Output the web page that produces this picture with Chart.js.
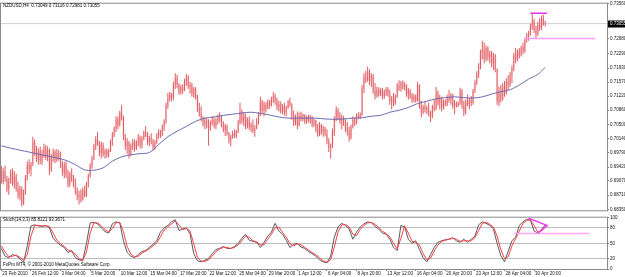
<!DOCTYPE html>
<html><head><meta charset="utf-8">
<script src="https://cdn.jsdelivr.net/npm/chart.js@4/dist/chart.umd.min.js"></script>
<style>
html,body{margin:0;padding:0;background:#fff;overflow:hidden;}
#wrap{position:relative;width:625px;height:277px;}
canvas{position:absolute;left:0;}
#main{top:0;}
#stoch{top:214px;}
</style></head><body>
<div id="wrap"><canvas id="main" width="625" height="214"></canvas><canvas id="stoch" width="625" height="63"></canvas></div>
<script>
// ---- data (prices in 4-digit pips: 6930 -> 0.6930) ----
const barOpen = [
6930,6905,6932,6912,6885,6908,6928,6900,6918,6886, 6870,6888,6850,6878,6915,6948,6935,6950,7005,6978,
6962,6982,6958,6975,6990,6968,6985,6935,6968,6980, 6960,6978,6965,6945,6928,6948,6920,6898,6925,6912,
6896,6880,6866,6872,6860,6882,6870,6900,6920,6946, 6965,6995,7012,7002,6978,6998,6975,6983,6972,6985,
7008,7024,7040,7062,7048,7080,7066,7018,6995,7005, 6975,6996,7006,6988,7004,7018,6998,7012,7030,7025,
7004,7016,7008,6992,7005,7022,7030,7024,7045,7058, 7098,7115,7125,7118,7150,7168,7150,7132,7144,7136,
7160,7170,7146,7150,7128,7140,7120,7090,7078,7065, 7052,7060,7046,7042,7055,7062,7046,7058,7068,7060,
7050,7036,7045,7028,7010,7018,7028,7020,7032,7055, 7082,7060,7072,7046,7062,7042,7050,7034,7040,7060,
7074,7108,7085,7100,7090,7106,7098,7115,7122,7108, 7094,7102,7085,7096,7080,7092,7108,7100,7068,7055,
7070,7048,7072,7064,7075,7058,7068,7060,7070,7050, 7060,7036,7025,7048,7030,7040,7028,7008,6990,6996,
7034,7064,7086,7070,7058,7066,7052,7040,7030,7016, 7044,7062,7054,7072,7068,7076,7142,7170,7162,7185,
7160,7172,7135,7122,7138,7126,7136,7120,7132,7140, 7126,7108,7115,7104,7122,7148,7142,7155,7144,7150,
7126,7136,7120,7112,7122,7110,7150,7096,7080,7094, 7088,7092,7078,7070,7095,7090,7130,7104,7118,7092,
7108,7100,7120,7112,7125,7096,7105,7098,7104,7136, 7098,7080,7106,7102,7112,7105,7135,7155,7178,7198,
7232,7240,7215,7244,7220,7230,7205,7225,7190,7108, 7130,7115,7146,7130,7158,7150,7176,7192,7226,7215,
7235,7225,7245,7236,7264,7276,7280,7298,7312,7290, 7278,7302,7295,7318,7305];
const barHigh = [
6945,6940,6946,6920,6915,6936,6939,6932,6925,6905, 6895,6893,6885,6922,6957,6962,6955,7019,7012,6996,
6990,6994,6985,7001,6998,6995,6989,6975,6989,6986, 6988,6985,6981,6957,6955,6957,6935,6930,6939,6922,
6914,6890,6882,6886,6890,6895,6905,6925,6952,6971, 7001,7020,7031,7008,7006,7004,6989,6989,6988,7012,
7031,7045,7071,7070,7085,7100,7072,7026,7015,7008, 7002,7014,7012,7010,7026,7022,7020,7035,7046,7031,
7022,7028,7014,7010,7028,7038,7036,7050,7063,7105, 7130,7133,7130,7158,7180,7176,7155,7150,7152,7165,
7178,7175,7158,7156,7145,7144,7125,7105,7096,7071, 7068,7066,7063,7060,7071,7068,7066,7075,7081,7072,
7058,7052,7050,7031,7024,7034,7038,7036,7062,7105, 7088,7081,7078,7068,7071,7055,7063,7048,7066,7081,
7120,7112,7108,7106,7113,7112,7120,7133,7128,7118, 7110,7108,7102,7105,7098,7112,7118,7104,7085,7075,
7083,7080,7083,7078,7076,7072,7075,7074,7071,7066, 7062,7052,7056,7052,7046,7044,7038,7015,7002,7040,
7071,7096,7092,7081,7075,7072,7063,7056,7044,7050, 7071,7068,7078,7081,7080,7150,7180,7186,7197,7190,
7180,7178,7155,7145,7144,7142,7143,7138,7145,7144, 7138,7122,7130,7126,7155,7162,7160,7162,7158,7152,
7143,7140,7130,7128,7126,7158,7152,7110,7100,7108, 7098,7105,7085,7100,7113,7145,7136,7125,7120,7113,
7113,7125,7138,7130,7128,7112,7108,7108,7143,7140, 7110,7113,7125,7118,7122,7140,7162,7185,7205,7240,
7262,7258,7250,7248,7237,7236,7232,7228,7192,7145, 7150,7155,7160,7167,7175,7182,7200,7232,7244,7240,
7244,7250,7257,7270,7282,7287,7305,7331,7318,7300, 7311,7319,7326,7328,7312];
const barLow = [
6900,6898,6905,6878,6872,6900,6895,6888,6880,6862, 6858,6842,6846,6872,6908,6925,6919,6945,6970,6955,
6948,6950,6947,6965,6960,6957,6922,6930,6955,6952, 6955,6958,6939,6920,6914,6915,6890,6892,6905,6890,
6872,6858,6847,6852,6857,6865,6866,6890,6915,6938, 6960,6985,6996,6970,6964,6968,6964,6965,6966,6980,
6996,7018,7031,7038,7045,7060,7010,6985,6975,6964, 6970,6985,6981,6985,6995,6990,6989,7010,7018,6998,
6994,7000,6984,6986,7000,7014,7016,7020,7034,7052, 7090,7108,7108,7112,7140,7142,7125,7126,7128,7135,
7148,7140,7128,7120,7118,7113,7082,7070,7058,7045, 7038,7040,6996,7034,7048,7040,7038,7050,7055,7043,
7030,7021,7022,7002,6994,7014,7016,7015,7028,7050, 7052,7046,7038,7040,7036,7031,7028,7019,7038,7050,
7071,7078,7071,7080,7088,7090,7096,7105,7100,7086, 7083,7078,7076,7072,7071,7090,7095,7062,7046,7048,
7038,7045,7058,7058,7052,7051,7055,7052,7043,7044, 7030,7019,7020,7024,7019,7020,7000,6980,6964,6990,
7021,7058,7062,7052,7038,7046,7031,7022,7006,7012, 7040,7046,7050,7063,7064,7072,7130,7155,7158,7150,
7145,7128,7113,7118,7120,7122,7113,7115,7122,7120, 7100,7088,7096,7100,7118,7135,7133,7138,7136,7120,
7113,7115,7105,7106,7105,7108,7090,7068,7076,7080, 7076,7070,7056,7066,7083,7086,7098,7088,7083,7088,
7096,7096,7105,7100,7090,7076,7093,7094,7100,7090, 7071,7075,7096,7088,7096,7100,7130,7150,7168,7190,
7215,7205,7210,7212,7205,7195,7188,7182,7100,7096, 7105,7110,7120,7126,7138,7145,7155,7185,7205,7210,
7217,7222,7228,7232,7257,7262,7275,7290,7282,7269, 7274,7287,7290,7300,7298];
const barClose = [
6905,6932,6912,6885,6908,6928,6900,6918,6886,6870, 6888,6850,6878,6915,6948,6935,6950,7005,6978,6962,
6982,6958,6975,6990,6968,6985,6935,6968,6980,6960, 6978,6965,6945,6928,6948,6920,6898,6925,6912,6896,
6880,6866,6872,6860,6882,6870,6900,6920,6946,6965, 6995,7012,7002,6978,6998,6975,6983,6972,6985,7008,
7024,7040,7062,7048,7080,7066,7018,6995,7005,6975, 6996,7006,6988,7004,7018,6998,7012,7030,7025,7004,
7016,7008,6992,7005,7022,7030,7024,7045,7058,7098, 7115,7125,7118,7150,7168,7150,7132,7144,7136,7160,
7170,7146,7150,7128,7140,7120,7090,7078,7065,7052, 7060,7046,7042,7055,7062,7046,7058,7068,7060,7050,
7036,7045,7028,7010,7018,7028,7020,7032,7055,7082, 7060,7072,7046,7062,7042,7050,7034,7040,7060,7074,
7108,7085,7100,7090,7106,7098,7115,7122,7108,7094, 7102,7085,7096,7080,7092,7108,7100,7068,7055,7070,
7048,7072,7064,7075,7058,7068,7060,7070,7050,7060, 7036,7025,7048,7030,7040,7028,7008,6990,6996,7034,
7064,7086,7070,7058,7066,7052,7040,7030,7016,7044, 7062,7054,7072,7068,7076,7142,7170,7162,7185,7160,
7172,7135,7122,7138,7126,7136,7120,7132,7140,7126, 7108,7115,7104,7122,7148,7142,7155,7144,7150,7126,
7136,7120,7112,7122,7110,7150,7096,7080,7094,7088, 7092,7078,7070,7095,7090,7130,7104,7118,7092,7108,
7100,7120,7112,7125,7096,7105,7098,7104,7136,7098, 7080,7106,7102,7112,7105,7135,7155,7178,7198,7232,
7240,7215,7244,7220,7230,7205,7225,7190,7108,7130, 7115,7146,7130,7158,7150,7176,7192,7226,7215,7235,
7225,7245,7236,7264,7276,7280,7298,7312,7290,7278, 7302,7295,7318,7305,7306];
// moving average, one value every 5 bars (last one at the final bar)
const maValues = [6996,6990,6985,6980,6975,6970,6965,6959,6948,6935, 6934,6940,6957,6968,6973,6976,6979,6999,7019,7033,
7045,7058,7066,7069,7073,7076,7079,7081,7078,7074, 7069,7066,7066,7066,7066,7064,7063,7064,7066,7067,
7071,7073,7081,7086,7093,7103,7109,7115,7118,7120, 7118,7117,7120,7127,7133,7138,7150,7165,7177,7195];
// stochastic, one value every 2 bars
const stochK = [40,25,22,28,26,20,13,45,84,86, 84,83,85,80,60,52,46,42,32,36, 22,18,16,50,90,91,88,80,73,70,
88,92,90,55,32,25,22,28,34,36, 42,48,55,72,80,85,92,96,75,78, 80,68,30,16,14,17,20,30,38,40,
44,40,40,44,50,60,68,56,54,52, 42,52,64,72,89,74,68,56,42,48, 50,43,40,34,30,25,18,14,12,25,
62,82,89,85,78,58,72,82,88,92, 90,83,78,70,68,58,42,36,85,82, 58,50,55,38,22,14,28,42,52,55,
57,58,61,55,52,58,52,58,64,86, 92,89,85,78,50,26,14,35,55,62, 85,92,97,95,74,70,77,86];
const stochD = [45,33,24,25,27,23,17,28,64,85, 85,84,84,83,70,56,49,44,37,34, 29,20,17,33,70,90,90,84,77,72,
79,90,91,73,44,29,24,25,31,35, 39,45,51,63,76,82,88,94,86,77, 79,74,49,23,15,15,18,25,34,39,
42,42,40,42,47,55,64,62,55,53, 47,47,58,68,80,82,71,62,49,45, 49,47,42,37,32,28,22,16,13,18,
43,72,86,87,82,68,65,77,85,90, 91,87,81,74,69,63,50,39,60,84, 70,54,52,47,30,18,21,35,47,54,
56,58,60,58,54,55,55,55,61,75, 89,91,87,82,64,38,20,24,45,59, 74,89,95,96,85,72,74,82];
const stochLevels = [20, 50, 80];
const stochTicks = [0, 20, 50, 80, 100];
const priceTicks = [0.68350,0.68710,0.69070,0.69420,0.69790,0.70140,0.70500,0.70860,0.71220,0.71570,0.71930,0.72290,0.72680,0.73560];
const timeTickBars = [0,16,32,48,64,80,96,112,128,144,160,176,192,208,224,240,256,272,288];
const timeTickLabels = ["23 Feb 2010","26 Feb 12:00","3 Mar 04:00","5 Mar 20:00","10 Mar 12:00","15 Mar 04:00","17 Mar 20:00","22 Mar 12:00","25 Mar 04:00","29 Mar 20:00","1 Apr 12:00","6 Apr 04:00","8 Apr 20:00","13 Apr 12:00","16 Apr 04:00","20 Apr 20:00","23 Apr 12:00","28 Apr 04:00","30 Apr 20:00"];
const lastQuote = [0.73049, 0.73116, 0.72981, 0.73055];
const stochLast = [85.8121, 93.3671];
// drawn objects: [fromBar, toBar] and level
const resistBars = [286, 295]; const resistPrice = 0.7332;
const supportBars = [283, 321]; const supportPrice = 0.7268;
const stochTrendBars = [285, 295, 290]; const stochTrendVals = [99, 85, 70];
const stochLevelBars = [277, 318]; const stochLevelVal = 69;

// ---- setup ----
const N = barClose.length;
const P = v => v / 10000;
const X_MIN = -0.2, X_MAX = 327.4;
const Y_MAX = 0.7356, Y_MIN = 0.68325;
const FONT = {family: "'Liberation Sans', Arial, sans-serif", size: 4.5};

const bodies = [], wicks = [];
for (let i = 0; i < N; i++) {
  bodies.push({x: i, y: [P(barOpen[i]), P(barClose[i])]});
  wicks.push({x: i, y: [P(barLow[i]), P(barHigh[i])]});
}
const maData = maValues.map((v, k) => ({x: Math.min(k * 5, N - 1), y: P(v)}));

const frame = {
  id: 'frame',
  afterDraw(chart, args, opts) {
    const {ctx, chartArea: a} = chart;
    ctx.save();
    ctx.strokeStyle = '#8a8a8a'; ctx.lineWidth = 1;
    ctx.strokeRect(a.left - 0.5, a.top - 0.5, a.right - a.left + 1, a.bottom - a.top + 1);
    ctx.fillStyle = '#000';
    ctx.font = "4.5px 'Liberation Sans', Arial, sans-serif";
    ctx.textBaseline = 'middle'; ctx.textAlign = 'left';
    (opts.texts || []).forEach(t => ctx.fillText(t[0], t[1], t[2]));
    if (opts.bid) {
      const y = chart.scales.y.getPixelForValue(opts.bid);
      ctx.fillStyle = '#000';
      ctx.fillRect(a.right + 1, Math.round(y) - 3.5, 18, 7);
      ctx.fillStyle = '#fff';
      ctx.fillText(opts.bid.toFixed(5), a.right + 3, y);
    }
    ctx.restore();
  }
};

new Chart(document.getElementById('main'), {
  type: 'bar',
  data: {
    datasets: [
      {type: 'line', data: [{x: X_MIN, y: lastQuote[3]}, {x: X_MAX, y: lastQuote[3]}], borderColor: '#cfcfcf', borderWidth: 1, pointRadius: 0, order: 9},
      {data: bodies, backgroundColor: 'rgba(240,165,170,0.45)', barThickness: 2, inflateAmount: 0, grouped: false, order: 8},
      {data: wicks, backgroundColor: '#e25a60', barThickness: 1, inflateAmount: 0, grouped: false, order: 7},
      {type: 'line', data: maData, borderColor: '#6c6cb0', borderWidth: 1, pointRadius: 0, tension: 0.3, order: 5},
      {type: 'line', data: resistBars.map(b => ({x: b, y: resistPrice})), borderColor: '#e033e6', borderWidth: 1.5, pointRadius: 0, order: 1},
      {type: 'line', data: supportBars.map(b => ({x: b, y: supportPrice})), borderColor: '#ff9cf6', borderWidth: 1.5, pointRadius: 0, order: 1}
    ]
  },
  options: {
    responsive: false, animation: false, events: [],
    layout: {padding: {left: 1, right: 0, top: 2, bottom: 1}},
    plugins: {legend: {display: false}, tooltip: {enabled: false},
      frame: {texts: [["NZDUSD,H4  " + lastQuote.map(v => v.toFixed(5)).join(' '), 3, 6]], bid: lastQuote[3]}},
    scales: {
      x: {type: 'linear', min: X_MIN, max: X_MAX, offset: false, display: false},
      y: {position: 'right', min: Y_MIN, max: Y_MAX, beginAtZero: false,
        afterFit: s => { s.width = 18; },
        afterBuildTicks: s => { s.ticks = priceTicks.map(v => ({value: v})); },
        ticks: {autoSkip: false, font: FONT, color: '#111', padding: 1, callback: v => Number(v).toFixed(5)},
        grid: {drawOnChartArea: false, drawTicks: true, tickLength: 2, color: '#808080'},
        border: {display: false}}
    }
  },
  plugins: [frame]
});

const kData = stochK.map((v, k) => ({x: k * 2, y: v}));
const dData = stochD.map((v, k) => ({x: k * 2, y: v}));

new Chart(document.getElementById('stoch'), {
  type: 'line',
  data: {
    datasets: [
      {data: kData, borderColor: '#5a5a5a', borderWidth: 1, pointRadius: 0, order: 3},
      {data: dData, borderColor: '#ff4048', borderWidth: 1, pointRadius: 0, order: 2},
      {data: stochTrendBars.map((b, j) => ({x: b, y: stochTrendVals[j]})), borderColor: '#f03cf0', borderWidth: 1.5, pointRadius: 0, order: 1},
      {data: stochLevelBars.map(b => ({x: b, y: stochLevelVal})), borderColor: '#ffa6f8', borderWidth: 1.5, pointRadius: 0, order: 1}
    ]
  },
  options: {
    responsive: false, animation: false, events: [],
    layout: {padding: {left: 1, right: 0, top: 2, bottom: 0}},
    plugins: {legend: {display: false}, tooltip: {enabled: false},
      frame: {texts: [["Stoch(14,3,3) " + stochLast.map(v => v.toFixed(4)).join(' '), 3, 6],
                      ["FxPro MT4, \u00a9 2001-2010 MetaQuotes Software Corp.", 3, 51]]}},
    scales: {
      x: {type: 'linear', min: X_MIN, max: X_MAX, offset: false,
        afterFit: s => { s.height = 8; },
        afterBuildTicks: s => { s.ticks = timeTickBars.map(v => ({value: v})); },
        ticks: {autoSkip: false, maxRotation: 0, minRotation: 0, align: 'start', labelOffset: 1, padding: 0, font: FONT, color: '#111',
          callback: (v) => { const j = timeTickBars.indexOf(v); return j >= 0 ? timeTickLabels[j] : ''; }},
        grid: {drawOnChartArea: false, drawTicks: true, tickLength: 2, color: '#808080'},
        border: {display: false}},
      y: {position: 'right', min: 0, max: 100,
        afterFit: s => { s.width = 18; },
        afterBuildTicks: s => { s.ticks = stochTicks.map(v => ({value: v})); },
        ticks: {autoSkip: false, font: FONT, color: '#111', padding: 1},
        grid: {drawOnChartArea: true, drawTicks: true, tickLength: 2,
          color: c => stochLevels.includes(c.tick && c.tick.value) ? '#bdbdbd' : 'rgba(0,0,0,0)',
          tickColor: '#808080', borderDash: [1, 2]},
        border: {display: false}}
    }
  },
  plugins: [frame]
});
</script>
</body></html>
